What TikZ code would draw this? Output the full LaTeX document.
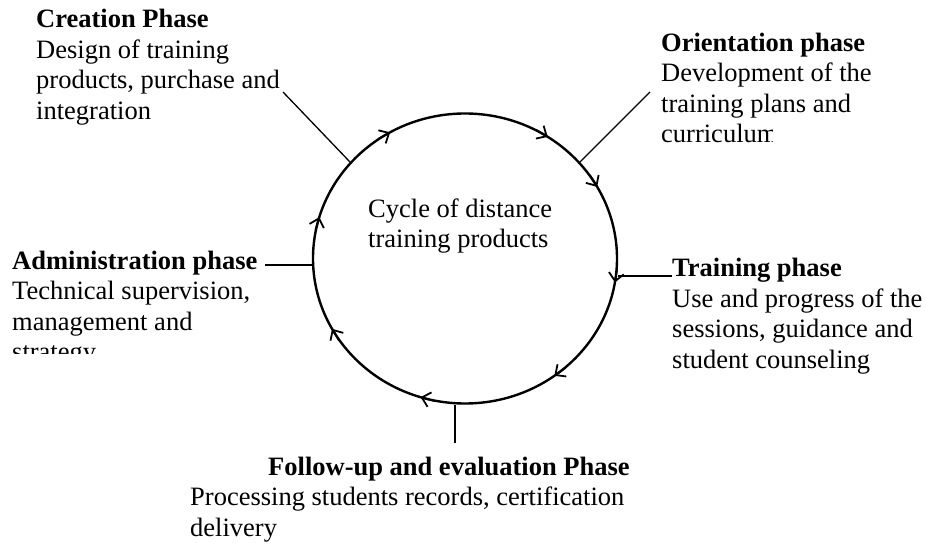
\documentclass[tikz,border=0pt]{standalone}
\usepackage{fontspec}
\setmainfont{Liberation Serif}
\usetikzlibrary{arrows.meta,calc,shapes.geometric}
\begin{document}
\begin{tikzpicture}[x=1pt,y=1pt,
  txt/.style={inner sep=0pt, anchor=base west, font=\fontsize{26.5pt}{30.5pt}\selectfont},
  conn/.style={line width=1.3pt},
  ring/.style={ellipse, draw, line width=2.4pt, minimum width=304pt, minimum height=290pt, inner sep=0pt},
  chev/.style={line width=1.8pt, -{Straight Barb[length=8pt,width=15pt]}}]
\useasboundingbox (0,0) rectangle (927,547);
\node[ring] (cyc) at (465,288.5) {};
% arrow marks along the cycle (clockwise)
\foreach \t [count=\i, evaluate=\t as \u using \t+2] in {119.5,57,29.6,350.5,306,253,209,163.4} {
  \path (cyc.center) ++(\t:152 and 145) coordinate (p\i);
  \path (cyc.center) ++(\u:152 and 145) coordinate (q\i);
  \draw[chev] ($(p\i)!14pt!(q\i)$) -- (p\i);
}
% centre text
\node[txt] (ctr) at (368,329.5) {\begin{tabular}[t]{@{}l@{}}Cycle of distance\\ training products\end{tabular}};
% Creation
\node[txt] (cre) at (36,519) {\begin{tabular}[t]{@{}l@{}}\textbf{Creation Phase}\\ Design of training\\ products, purchase and\\ integration\end{tabular}};
% Orientation
\begin{scope}
\clip (640,547) -- (927,547) -- (927,425) -- (772,425) -- (772,300) -- (640,300) -- cycle;
\node[txt] (ori) at (661,495.5) {\begin{tabular}[t]{@{}l@{}}\textbf{Orientation phase}\\ Development of the\\ training plans and\\ curriculum\end{tabular}};
\end{scope}
% Administration
\begin{scope}
\clip (0,193) rectangle (310,320);
\node[txt] (adm) at (12,277.5) {\begin{tabular}[t]{@{}l@{}}\textbf{Administration phase}\\ Technical supervision,\\ management and\\ strategy\end{tabular}};
\end{scope}
% Training
\node[txt] (tra) at (672,270) {\begin{tabular}[t]{@{}l@{}}\textbf{Training phase}\\ Use and progress of the\\ sessions, guidance and\\ student counseling\end{tabular}};
% Follow-up
\node[txt] (fol) at (190,72) {\begin{tabular}[t]{@{}l@{}}\hspace*{78pt}\textbf{Follow-up and evaluation Phase}\\ Processing students records, certification\\ delivery\end{tabular}};
% connectors
\coordinate (creE) at (283,455);
\coordinate (oriE) at (650,455);
\coordinate (admE) at (265,282);
\coordinate (traE) at (672,271);
\coordinate (folE) at (455,104);
\draw[conn] (creE) -- (cyc.140);
\draw[conn] (oriE) -- (cyc.40);
\draw[conn] (admE) -- (admE -| cyc.west);
\draw[conn] (traE) -- (traE -| cyc.east);
\draw[conn] (folE) -- (folE |- cyc.south);
\end{tikzpicture}
\end{document}
